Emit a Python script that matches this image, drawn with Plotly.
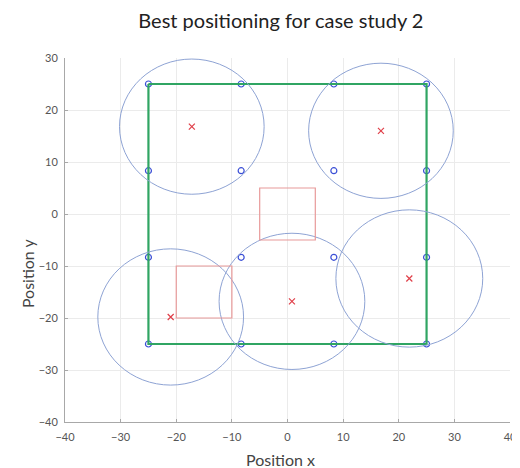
import plotly.graph_objects as go

# Candidate grid points (blue 'o')
grid_x = [-25, -8.33, 8.33, 25, -25, -8.33, 8.33, 25, -25, -8.33, 8.33, 25, -25, -8.33, 8.33, 25]
grid_y = [25, 25, 25, 25, 8.33, 8.33, 8.33, 8.33, -8.33, -8.33, -8.33, -8.33, -25, -25, -25, -25]

# Best positions (red 'x') and coverage radius
pos_x = [-17.2, 16.8, 0.8, 21.9, -21.0]
pos_y = [16.8, 16.0, -16.8, -12.4, -19.8]
radius = [13.0, 13.0, 13.1, 13.2, 13.1]

# Room boundary (green square)
room_x = [-25, 25, 25, -25, -25]
room_y = [25, 25, -25, -25, 25]

# Obstacles (red rectangles): x0, x1, y0, y1
obst_x0 = [-5, -20]
obst_x1 = [5, -10]
obst_y0 = [-5, -20]
obst_y1 = [5, -10]

x_ticks = [-40, -30, -20, -10, 0, 10, 20, 30, 40]
y_ticks = [-40, -30, -20, -10, 0, 10, 20, 30]

FONT = "Lato"

fig = go.Figure()

fig.add_trace(go.Scatter(x=grid_x, y=grid_y, mode="markers",
                         marker=dict(symbol="circle-open", size=6, color="#3b4fd6", line=dict(width=1.2)),
                         showlegend=False, hoverinfo="skip"))
fig.add_trace(go.Scatter(x=room_x, y=room_y, mode="lines",
                         line=dict(color="#30a563", width=2.2),
                         showlegend=False, hoverinfo="skip"))
fig.add_trace(go.Scatter(x=pos_x, y=pos_y, mode="markers",
                         marker=dict(symbol="x-thin-open", size=6, color="#e0404a", line=dict(width=1.2)),
                         showlegend=False, hoverinfo="skip"))

shapes = []
for cx, cy, r in zip(pos_x, pos_y, radius):
    shapes.append(dict(type="circle", xref="x", yref="y", x0=cx - r, x1=cx + r, y0=cy - r, y1=cy + r,
                       line=dict(color="#8ea3d4", width=1), layer="above"))
for a, b, c, d in zip(obst_x0, obst_x1, obst_y0, obst_y1):
    shapes.append(dict(type="rect", xref="x", yref="y", x0=a, x1=b, y0=c, y1=d,
                       line=dict(color="#e89a9a", width=1.2), layer="above"))

annotations = [
    dict(text="Position x", xref="paper", yref="paper", x=0.485, y=-0.102, xanchor="center", yanchor="middle",
         showarrow=False, font=dict(family=FONT, size=16, color="#444")),
    dict(text="Position y", xref="paper", yref="paper", x=-0.0854, y=0.409, xanchor="center", yanchor="middle",
         textangle=-90, showarrow=False, font=dict(family=FONT, size=16, color="#444")),
]

fig.update_layout(
    width=512, height=460,
    margin=dict(l=57, r=10, t=50, b=46),
    paper_bgcolor="white", plot_bgcolor="white",
    shapes=shapes, annotations=annotations,
    title=dict(text="Best positioning for case study 2", x=0.533, xanchor="center", y=0.972, yanchor="middle",
               font=dict(family=FONT, size=20, color="#222")),
    font=dict(family=FONT, size=11, color="#555"),
)
fig.update_xaxes(range=[-40, 40], tickvals=x_ticks, showgrid=True, gridcolor="#ebebeb", gridwidth=1,
                 showline=True, linecolor="#a8a8a8", linewidth=1, ticks="inside", ticklen=3, tickcolor="#a8a8a8",
                 zeroline=False, automargin=False, ticklabelstandoff=5,
                 tickfont=dict(family=FONT, size=11, color="#555"))
fig.update_yaxes(range=[-40, 30], tickvals=y_ticks, showgrid=True, gridcolor="#ebebeb", gridwidth=1,
                 showline=True, linecolor="#a8a8a8", linewidth=1, ticks="inside", ticklen=3, tickcolor="#a8a8a8",
                 zeroline=False, automargin=False, ticklabelstandoff=4,
                 tickfont=dict(family=FONT, size=11, color="#555"))

fig.write_html("out.html")
